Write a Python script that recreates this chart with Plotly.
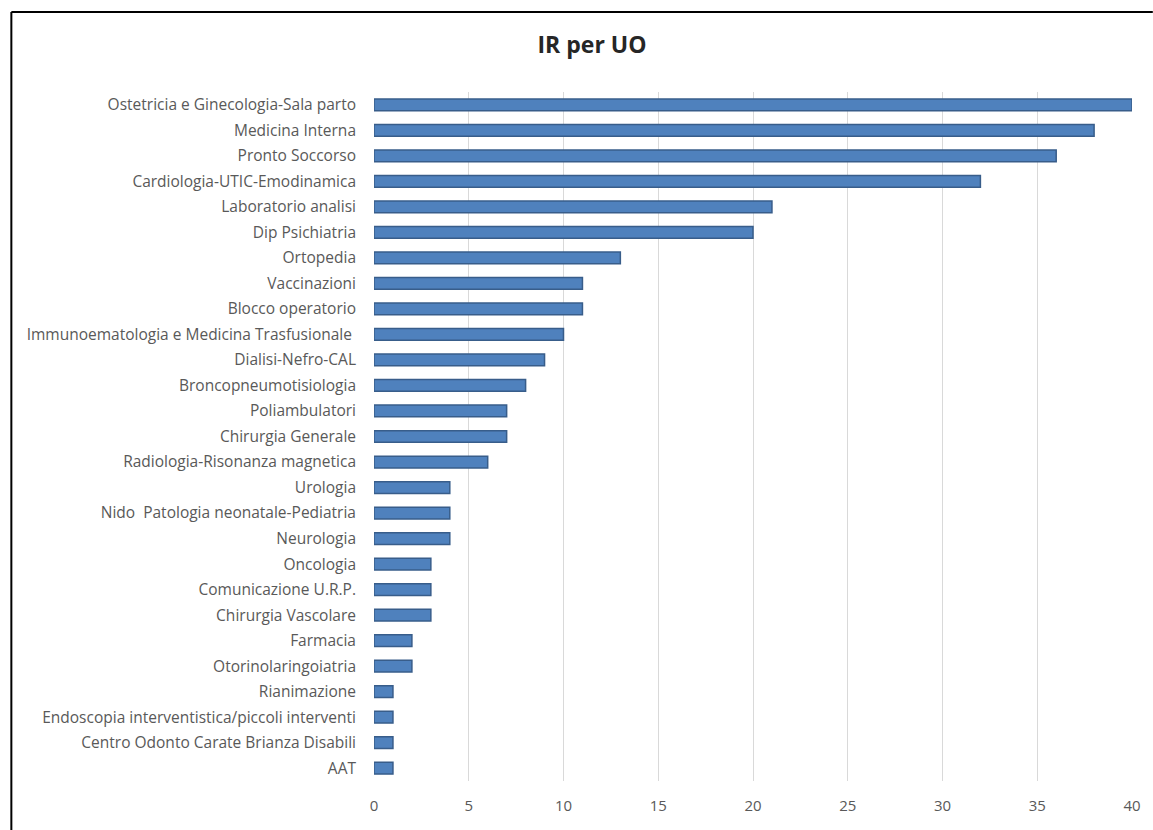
import plotly.graph_objects as go

categories = [
    "Ostetricia e Ginecologia-Sala parto",
    "Medicina Interna",
    "Pronto Soccorso",
    "Cardiologia-UTIC-Emodinamica",
    "Laboratorio analisi",
    "Dip Psichiatria",
    "Ortopedia",
    "Vaccinazioni",
    "Blocco operatorio",
    "Immunoematologia e Medicina Trasfusionale ",
    "Dialisi-Nefro-CAL",
    "Broncopneumotisiologia",
    "Poliambulatori",
    "Chirurgia Generale",
    "Radiologia-Risonanza magnetica",
    "Urologia",
    "Nido  Patologia neonatale-Pediatria",
    "Neurologia",
    "Oncologia",
    "Comunicazione U.R.P.",
    "Chirurgia Vascolare",
    "Farmacia",
    "Otorinolaringoiatria",
    "Rianimazione",
    "Endoscopia interventistica/piccoli interventi",
    "Centro Odonto Carate Brianza Disabili",
    "AAT",
]
values = [40, 38, 36, 32, 21, 20, 13, 11, 11, 10, 9, 8, 7, 7, 6, 4, 4, 4, 3, 3, 3, 2, 2, 1, 1, 1, 1]
x_ticks = [0, 5, 10, 15, 20, 25, 30, 35, 40]

fig = go.Figure()
fig.add_trace(go.Bar(
    y=categories, x=values, orientation="h",
    marker=dict(color="#4F81BD", line=dict(color="#385D8A", width=1.5)),
    width=0.46,
    hoverinfo="x+y",
))

W, H = 1153, 830
ml, mr, mt, mb = 374, 14, 92, 49
pw, ph = W - ml - mr, H - mt - mb

def px(x):
    return (x - ml) / pw

def py(y):
    return (H - mb - y) / ph

fig.update_layout(
    width=W, height=H,
    margin=dict(l=ml, r=mr, t=mt, b=mb, pad=0),
    paper_bgcolor="white", plot_bgcolor="white",
    showlegend=False,
    title=dict(text="<b>IR per UO</b>", x=(592) / W, xanchor="center", y=1 - 45 / H, yanchor="middle",
               font=dict(family="Open Sans, Lato, sans-serif", size=23, color="#262626")),
    font=dict(family="Open Sans, Lato, sans-serif", size=15.5, color="#595959"),
    xaxis=dict(range=[0, 40], tickvals=x_ticks, showgrid=True, gridcolor="#D9D9D9", gridwidth=1,
               zeroline=False, showline=False, ticks="", ticklabelstandoff=14,
               tickfont=dict(size=15, color="#595959")),
    yaxis=dict(categoryorder="array", categoryarray=categories, autorange="reversed",
               showgrid=False, zeroline=False, showline=False, ticks="", ticklabelstandoff=17,
               tickfont=dict(size=15.5, color="#595959")),
    shapes=[
        dict(type="line", xref="paper", yref="paper", x0=px(8), x1=px(1160), y0=py(12), y1=py(12),
             line=dict(color="black", width=2)),
        dict(type="line", xref="paper", yref="paper", x0=px(8), x1=px(8), y0=py(12), y1=py(840),
             line=dict(color="black", width=2)),
    ],
)

fig.write_html("out.html")
